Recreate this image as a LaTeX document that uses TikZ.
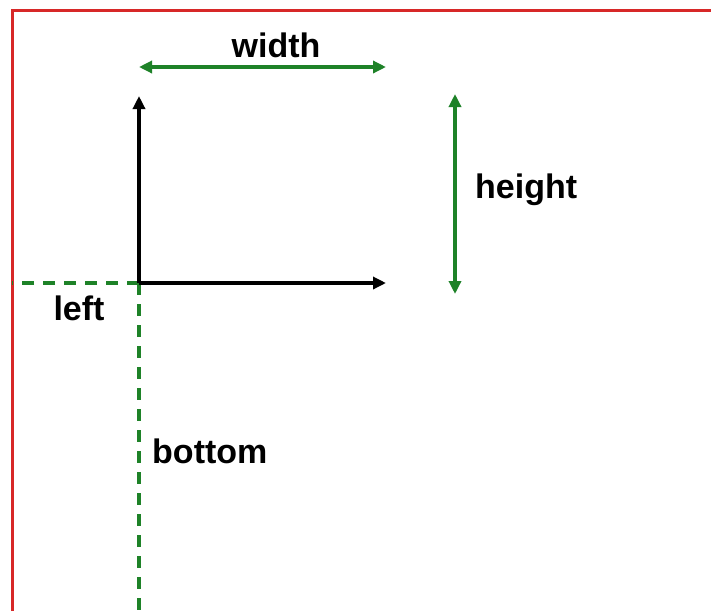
\documentclass[tikz,border=0pt]{standalone}
\usepackage{fontspec}
\setmainfont{Liberation Sans}
\usetikzlibrary{arrows.meta}
\definecolor{frame}{RGB}{215,40,40}
\definecolor{dimgreen}{RGB}{30,130,40}
\tikzset{
  axisline/.style={line width=3.5pt, black, -{Triangle[length=13pt,width=12pt]}},
  dimline/.style={line width=3.5pt, dimgreen, {Triangle[length=13pt,width=12pt]}-{Triangle[length=13pt,width=12pt]}},
  offsetline/.style={line width=3.5pt, dimgreen, dash pattern=on 12pt off 9pt},
  lbl/.style={font=\fontsize{34}{38}\selectfont\bfseries, inner sep=0pt, text=black}
}
\begin{document}
\begin{tikzpicture}[x=1pt,y=-1pt]
\useasboundingbox (0,0) rectangle (711,611);
\fill[white] (0,0) rectangle (711,611);
% frame
\draw[frame, line width=3pt] (12,611) -- (12,10) -- (711,10);
% coordinates
\coordinate (o) at (139,283);
\coordinate (ytip) at (139,96);
\coordinate (xtip) at (386,283);
\coordinate (wl) at (139,67);
\coordinate (wr) at (386,67);
\coordinate (ht) at (455,94);
\coordinate (hb) at (455,294);
\coordinate (lefte) at (12,283);
\coordinate (bote) at (139,611);
% offsets
\draw[offsetline] (o) -- (lefte);
\draw[offsetline] (o) -- (bote);
% axes
\draw[axisline] (o) -- (ytip);
\draw[axisline] (o) -- (xtip);
% dimensions
\draw[dimline] (wl) -- (wr);
\draw[dimline] (ht) -- (hb);
% labels
\node[lbl, anchor=base] (wlabel) at (276,57) {width};
\node[lbl, anchor=base west] (hlabel) at (475,198) {height};
\node[lbl, anchor=base] (llabel) at (79,320) {left};
\node[lbl, anchor=base west] (blabel) at (152,463) {bottom};
\end{tikzpicture}
\end{document}
